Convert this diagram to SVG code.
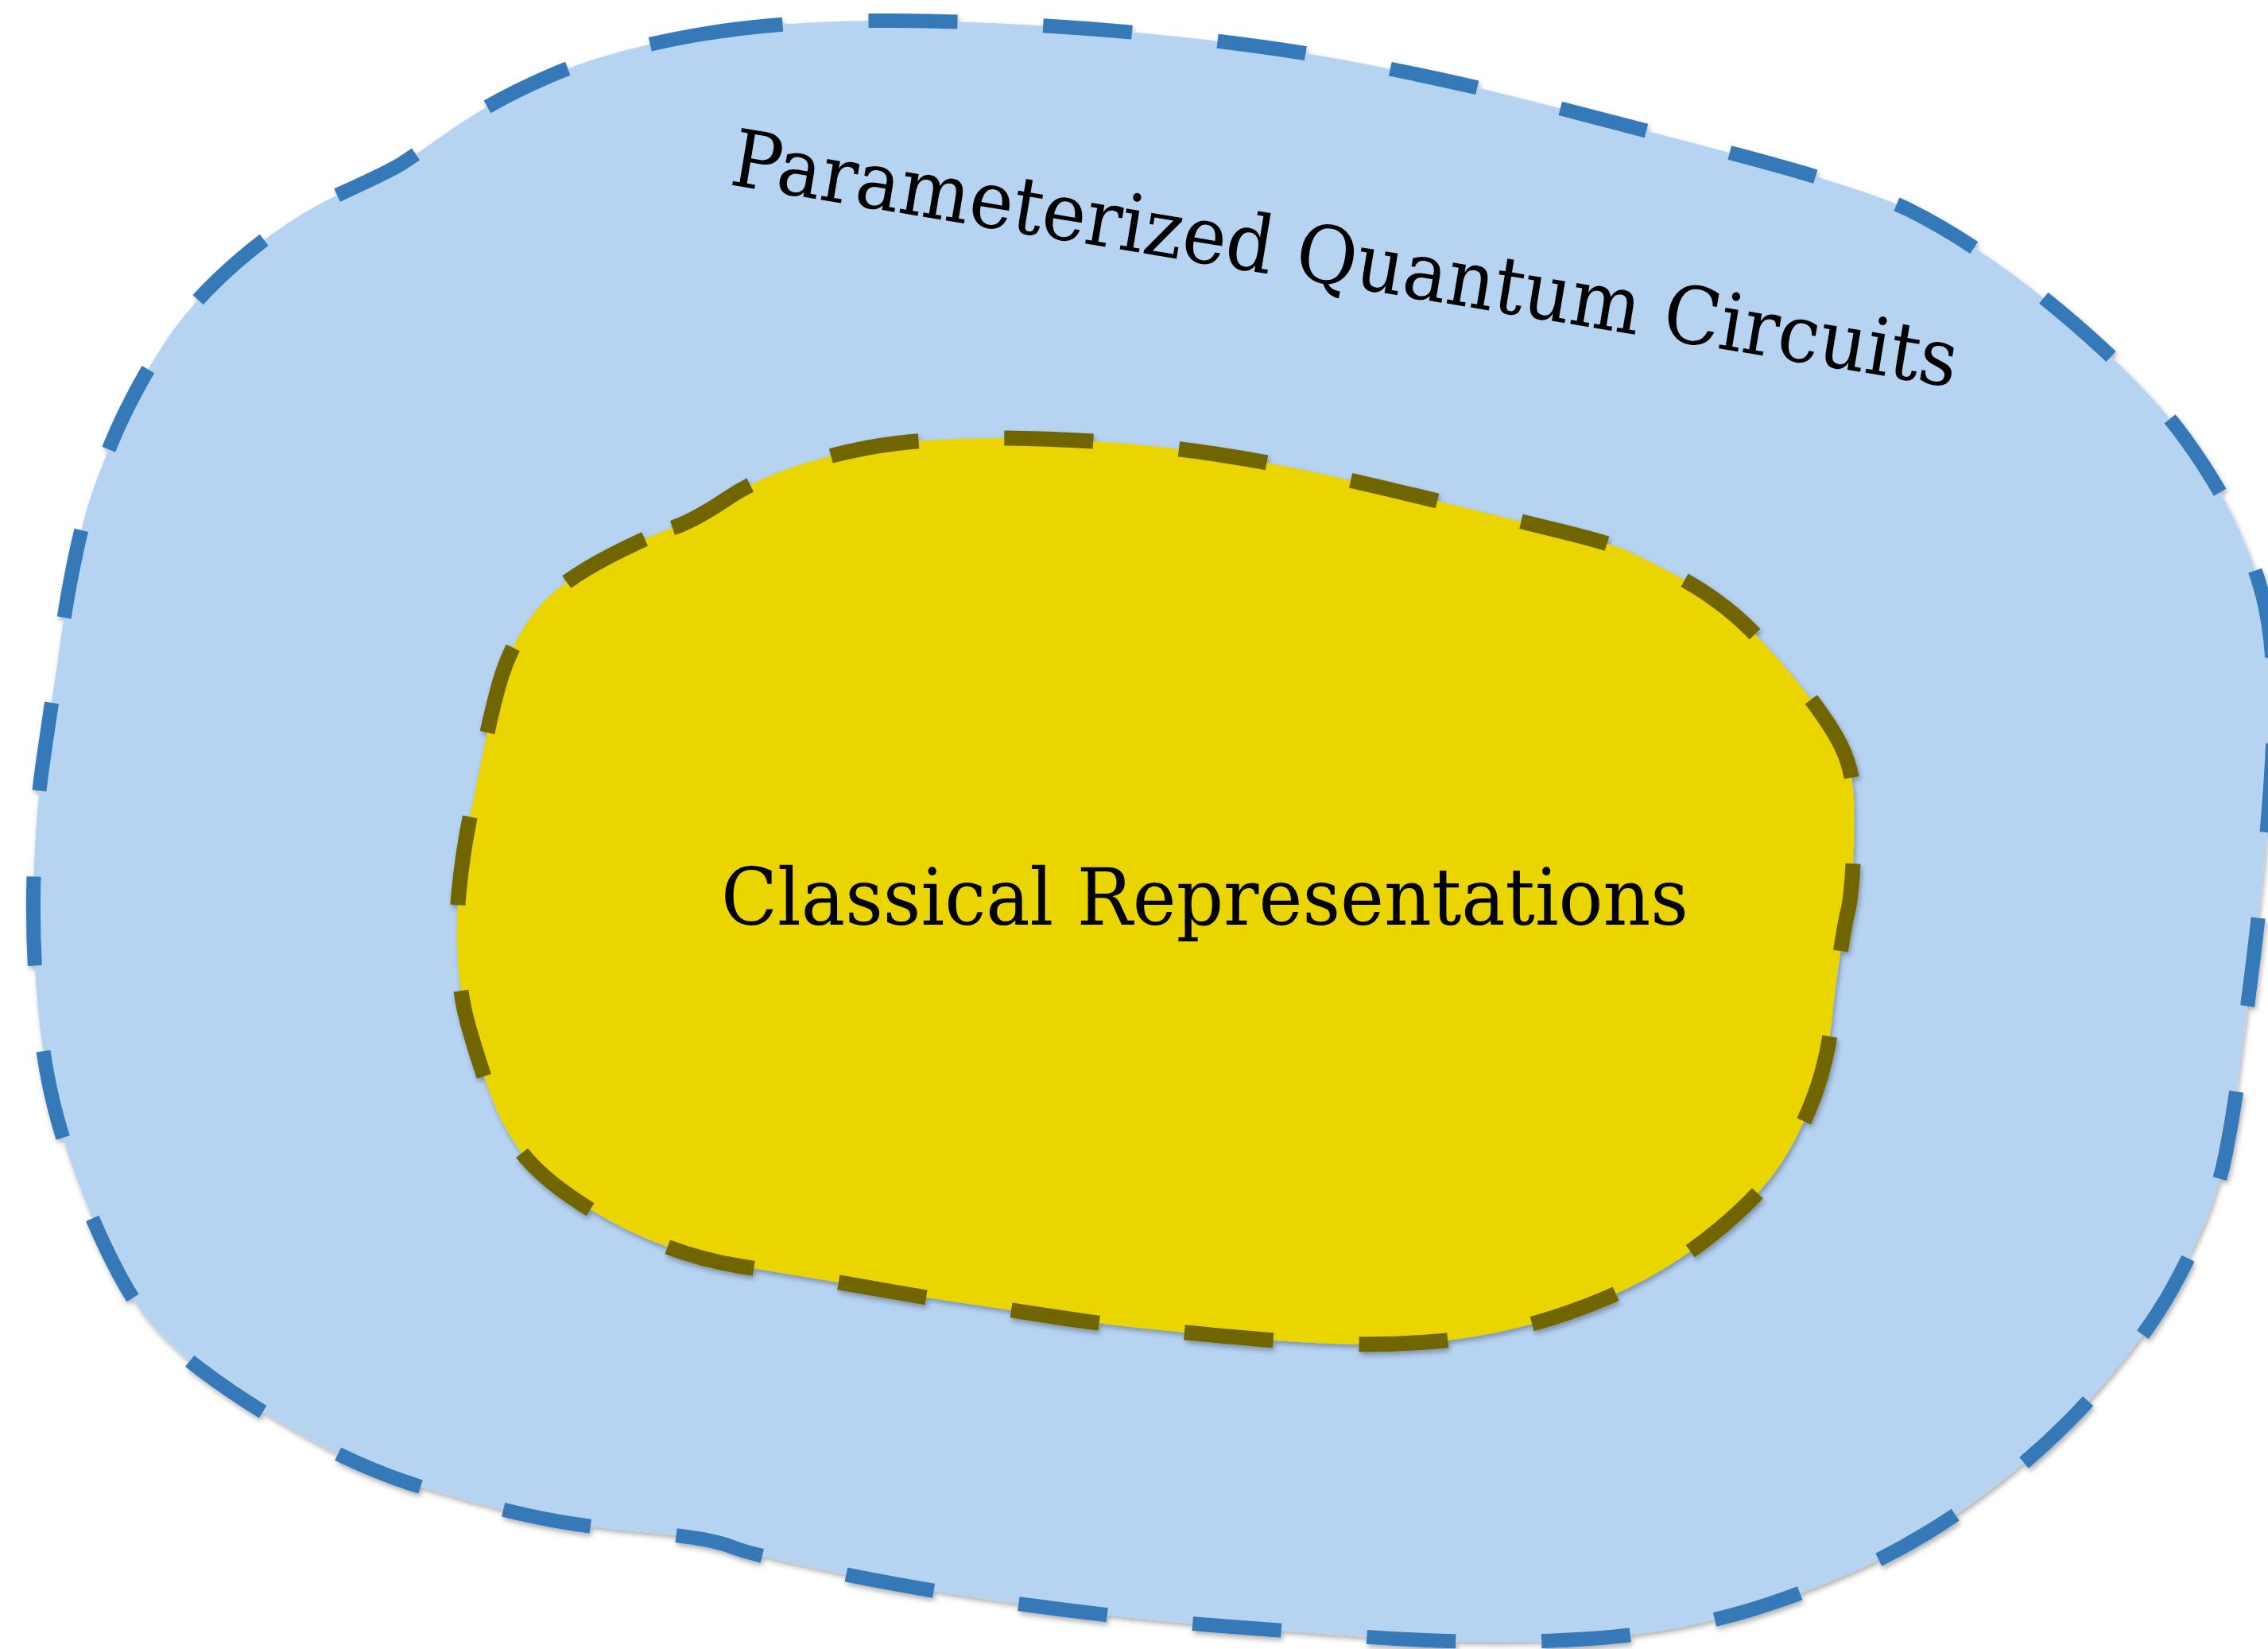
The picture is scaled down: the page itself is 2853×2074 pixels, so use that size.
<svg xmlns="http://www.w3.org/2000/svg" width="2853" height="2074" viewBox="0 0 2853 2074">
  <defs>
    <filter id="shadow" x="-5%" y="-5%" width="110%" height="110%">
      <feDropShadow dx="2" dy="4" stdDeviation="3" flood-color="#000" flood-opacity="0.3"/>
    </filter>
  </defs>
  <style>
    .outer { fill: #b6d3f2; stroke: #3479b8; stroke-width: 18; stroke-dasharray: 112 108; stroke-linejoin: miter; }
    .inner { fill: #ead500; stroke: #716500; stroke-width: 19; stroke-dasharray: 112 108; stroke-linejoin: miter; }
    .label { font-family: "DejaVu Serif", "Liberation Serif", serif; font-size: 100px; fill: #000; }
  </style>
  <rect width="2853" height="2074" fill="#ffffff"/>
  <g id="pqc" filter="url(#shadow)">
    <path class="outer" d="M 873.5,44.5 Q 983,25 1128.5,26 Q 1274,27 1428.5,41 Q 1583,55 1701.5,77.5 Q 1820,100 1910.5,123 Q 2001,146 2174,191.5 Q 2347,237 2401.5,264 Q 2456,291 2520,336.5 Q 2584,382 2647.5,441 Q 2711,500 2747.5,550 Q 2784,600 2806.5,645.5 Q 2829,691 2842.5,735.5 Q 2856,780 2859,840 Q 2862,900 2857,975 Q 2852,1050 2845,1115 Q 2838,1180 2831,1235 Q 2824,1290 2817,1345 Q 2810,1400 2800,1450 Q 2790,1500 2772.5,1540 Q 2755,1580 2733,1620 Q 2711,1660 2675.5,1705 Q 2640,1750 2600,1790 Q 2560,1830 2515,1865 Q 2470,1900 2425,1927.5 Q 2380,1955 2335,1975 Q 2290,1995 2240,2012.5 Q 2190,2030 2140,2041 Q 2090,2052 2045,2057 Q 2000,2062 1940,2064 Q 1880,2066 1820,2064 Q 1760,2062 1700,2057.5 Q 1640,2053 1529.5,2044.5 Q 1419,2036 1291.5,2018.5 Q 1164,2001 1055,1978.5 Q 946,1956 919,1945 Q 892,1934 810,1927 Q 728,1920 664,1906 Q 600,1892 527.5,1869.5 Q 455,1847 382,1806 Q 309,1765 254.5,1724 Q 200,1683 173,1642 Q 146,1601 118.5,1537.5 Q 91,1474 73,1410 Q 55,1346 47.5,1264.5 Q 40,1183 42.5,1101 Q 45,1019 54.5,955.5 Q 64,892 73,828 Q 82,764 91,718.5 Q 100,673 109,641.5 Q 118,610 141,555 Q 164,500 200.5,441 Q 237,382 300.5,327.5 Q 364,273 427.5,244 Q 491,215 505,206 Q 519,197 569,162 Q 619,127 691.5,95.5 Q 764,64 873.5,44.5 Z"/>
  </g>
  <g id="pqc-label">
    <text class="label" transform="translate(916,232) rotate(9.4)" x="0" y="0" textLength="1562" lengthAdjust="spacingAndGlyphs">Parameterized Quantum Circuits</text>
  </g>
  <g id="classical" filter="url(#shadow)">
    <path class="inner" d="M 846,664 Q 873,655 914,627.5 Q 955,600 1014.5,582 Q 1074,564 1128.5,557.5 Q 1183,551 1246.5,551 Q 1310,551 1383,555.5 Q 1456,560 1528.5,571 Q 1601,582 1674,598.5 Q 1747,615 1828.5,635 Q 1910,655 1965,668.5 Q 2020,682 2042.5,691 Q 2065,700 2115,727.5 Q 2165,755 2201.5,791.5 Q 2238,828 2270,869 Q 2302,910 2315.5,937 Q 2329,964 2331.5,996 Q 2334,1028 2331.5,1078 Q 2329,1128 2324.5,1146 Q 2320,1164 2313.5,1209.5 Q 2307,1255 2304.5,1282.5 Q 2302,1310 2292.5,1346.5 Q 2283,1383 2260.5,1428.5 Q 2238,1474 2201.5,1510.5 Q 2165,1547 2119.5,1578.5 Q 2074,1610 2019.5,1633 Q 1965,1656 1910.5,1669.5 Q 1856,1683 1801.5,1687.5 Q 1747,1692 1692.5,1690.5 Q 1638,1689 1574,1683.5 Q 1510,1678 1446.5,1671.5 Q 1383,1665 1328.5,1656.5 Q 1274,1648 1219,1640 Q 1164,1632 1119,1624 Q 1074,1616 1028.5,1608.5 Q 983,1601 928,1592 Q 873,1583 818.5,1560 Q 764,1537 718.5,1505.5 Q 673,1474 650.5,1442 Q 628,1410 614,1369 Q 600,1328 589.5,1291.5 Q 579,1255 576,1209.5 Q 573,1164 577.5,1119 Q 582,1074 591,1028.5 Q 600,983 609.5,937.5 Q 619,892 628,860 Q 637,828 655,796 Q 673,764 700.5,741.5 Q 728,719 773.5,696 Q 819,673 846,664 Z"/>
  </g>
  <g id="classical-label">
    <text class="label" x="907" y="1163" textLength="1217" lengthAdjust="spacingAndGlyphs">Classical Representations</text>
  </g>
</svg>
